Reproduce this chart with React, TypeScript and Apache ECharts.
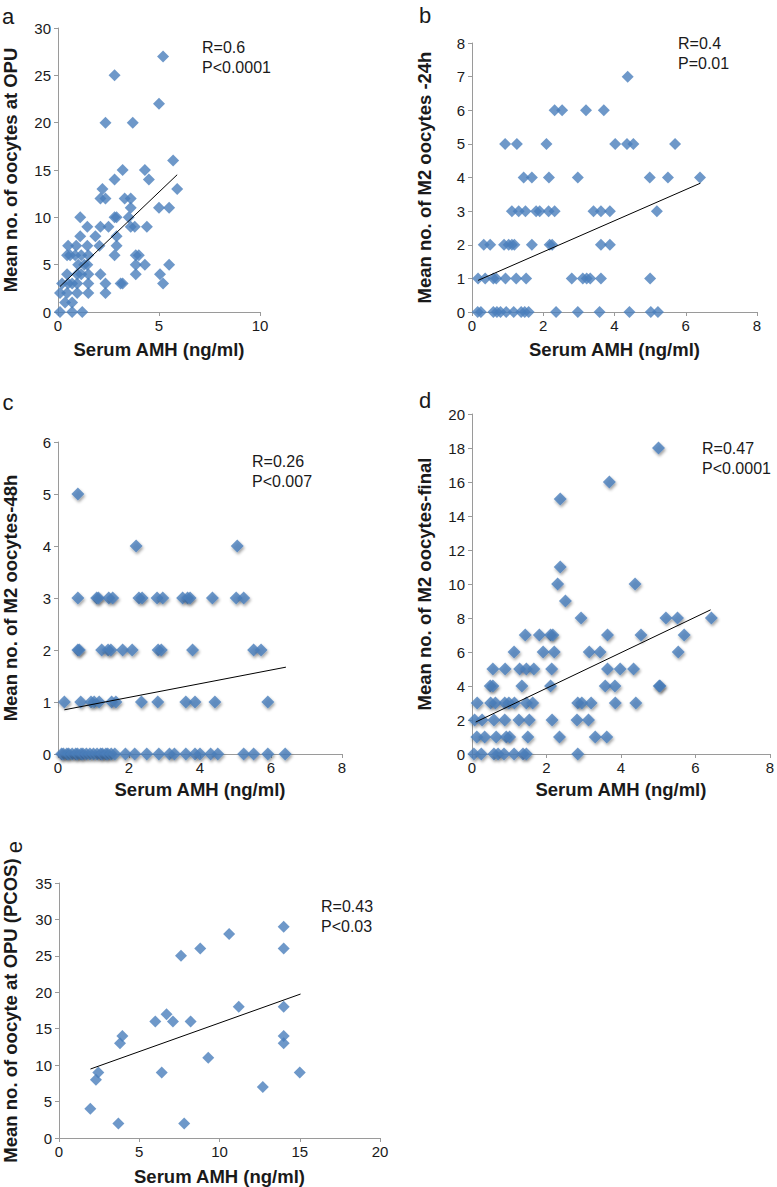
import React, { useEffect, useRef } from "react";
import * as echarts from "echarts";

// ---------- DATA ----------
const xTitle = "Serum AMH (ng/ml)";
const panelLetters = ["a", "b", "c", "d", "e"];
const yTitles = [
  "Mean no. of oocytes at OPU",
  "Mean no. of M2 oocytes -24h",
  "Mean no. of M2 oocytes-48h",
  "Mean no. of M2 oocytes-final",
  "Mean no. of oocyte at OPU (PCOS)",
];
const statLabels = [
  "R=0.6\nP<0.0001",
  "R=0.4\nP=0.01",
  "R=0.26\nP<0.007",
  "R=0.47\nP<0.0001",
  "R=0.43\nP<0.03",
];
const xMax = [10, 8, 8, 8, 20];
const xStep = [5, 2, 2, 2, 5];
const yMax = [30, 8, 6, 20, 35];
const yStep = [5, 1, 1, 2, 5];

const pointsA: number[][] = [
  [5.2, 27], [2.8, 25], [5.0, 22], [2.35, 20], [3.7, 20], [5.7, 16], [3.2, 15], [4.3, 15],
  [2.8, 14], [4.5, 14], [5.9, 13], [2.2, 13], [2.1, 12], [2.35, 12], [3.3, 12], [3.6, 12],
  [5.0, 11], [5.5, 11], [3.6, 11], [1.1, 10], [2.8, 10], [2.9, 10], [3.5, 10], [1.45, 9],
  [2.1, 9], [2.5, 9], [3.6, 9], [3.8, 9], [4.4, 9], [1.1, 8], [1.85, 8], [2.9, 8],
  [0.5, 7], [0.9, 7], [1.45, 7], [2.05, 7], [2.9, 7], [0.45, 6], [0.6, 6], [0.85, 6],
  [1.15, 6], [1.5, 6], [2.8, 6], [3.85, 6], [4.0, 6], [1.0, 5], [1.3, 5], [1.45, 5],
  [3.85, 5], [4.3, 5], [5.5, 5], [0.45, 4], [0.95, 4], [1.15, 4], [1.5, 4], [2.1, 4],
  [3.85, 4], [5.05, 4], [0.2, 3], [0.5, 3], [0.7, 3], [0.95, 3], [1.5, 3], [2.35, 3],
  [3.1, 3], [3.2, 3], [5.2, 3], [0.1, 2], [0.45, 2], [0.95, 2], [1.5, 2], [2.35, 2],
  [0.35, 1], [0.7, 1], [0.1, 0], [0.7, 0], [1.2, 0],
];
const pointsB: number[][] = [
  [4.37, 7], [2.32, 6], [2.53, 6], [3.2, 6], [3.7, 6],
  [0.93, 5], [1.26, 5], [2.09, 5], [4.02, 5], [4.35, 5], [4.53, 5], [5.7, 5],
  [1.45, 4], [1.68, 4], [2.16, 4], [2.97, 4], [4.99, 4], [5.5, 4], [6.4, 4],
  [1.12, 3], [1.31, 3], [1.5, 3], [1.8, 3], [1.9, 3], [2.15, 3], [2.32, 3], [3.41, 3],
  [3.62, 3], [3.87, 3], [5.19, 3],
  [0.33, 2], [0.51, 2], [0.9, 2], [1.03, 2], [1.12, 2], [1.19, 2], [1.68, 2], [2.18, 2],
  [2.25, 2], [3.62, 2], [3.87, 2],
  [0.17, 1], [0.37, 1], [0.6, 1], [0.68, 1], [0.94, 1], [1.24, 1], [1.52, 1], [2.8, 1],
  [3.11, 1], [3.22, 1], [3.32, 1], [3.62, 1], [5.0, 1],
  [0.16, 0], [0.25, 0], [0.6, 0], [0.7, 0], [0.8, 0], [0.96, 0], [1.17, 0], [1.38, 0],
  [1.48, 0], [1.59, 0], [2.36, 0], [2.97, 0], [3.58, 0], [4.42, 0], [5.02, 0], [5.22, 0],
];
const pointsC: number[][] = [
  [0.56, 5], [2.2, 4], [5.05, 4],
  [0.56, 3], [1.09, 3], [1.14, 3], [1.43, 3], [1.54, 3], [2.28, 3], [2.37, 3], [2.79, 3],
  [2.95, 3], [3.51, 3], [3.65, 3], [3.72, 3], [4.35, 3], [5.02, 3], [5.23, 3],
  [0.56, 2], [0.6, 2], [1.23, 2], [1.41, 2], [1.49, 2], [1.82, 2], [2.09, 2], [2.82, 2],
  [2.91, 2], [3.79, 2], [5.51, 2], [5.72, 2],
  [0.18, 1], [0.64, 1], [0.93, 1], [1.02, 1], [1.16, 1], [1.51, 1], [1.63, 1], [2.35, 1],
  [2.81, 1], [3.6, 1], [3.86, 1], [4.42, 1], [5.91, 1],
  [0.1, 0], [0.15, 0], [0.25, 0], [0.3, 0], [0.4, 0], [0.5, 0], [0.55, 0], [0.65, 0],
  [0.7, 0], [0.8, 0], [0.9, 0], [1.0, 0], [1.1, 0], [1.2, 0], [1.25, 0], [1.35, 0],
  [1.4, 0], [1.5, 0], [1.6, 0], [1.9, 0], [2.16, 0], [2.5, 0], [2.84, 0], [3.14, 0],
  [3.28, 0], [3.6, 0], [3.86, 0], [4.0, 0], [4.3, 0], [4.5, 0], [5.23, 0], [5.51, 0],
  [5.91, 0], [6.4, 0],
];
const pointsD: number[][] = [
  [5.01, 18], [3.69, 16], [2.37, 15], [2.37, 11], [2.3, 10], [4.38, 10], [2.51, 9],
  [2.93, 8], [5.21, 8], [5.52, 8], [6.43, 8],
  [1.43, 7], [1.81, 7], [2.11, 7], [2.17, 7], [3.64, 7], [4.54, 7], [5.7, 7],
  [1.13, 6], [1.91, 6], [2.21, 6], [3.15, 6], [3.44, 6], [5.54, 6],
  [0.56, 5], [0.89, 5], [1.28, 5], [1.46, 5], [1.66, 5], [2.14, 5], [3.64, 5], [3.98, 5],
  [4.34, 5],
  [0.49, 4], [0.56, 4], [1.34, 4], [2.11, 4], [3.58, 4], [3.84, 4], [5.03, 4], [5.05, 4],
  [0.14, 3], [0.5, 3], [0.63, 3], [0.88, 3], [0.99, 3], [1.14, 3], [1.46, 3], [1.63, 3],
  [2.84, 3], [2.95, 3], [3.2, 3], [3.85, 3], [4.4, 3],
  [0.07, 2], [0.27, 2], [0.59, 2], [0.88, 2], [1.26, 2], [1.54, 2], [2.15, 2], [2.82, 2],
  [3.13, 2],
  [0.13, 1], [0.34, 1], [0.65, 1], [0.92, 1], [1.01, 1], [1.5, 1], [2.35, 1], [3.31, 1],
  [3.62, 1],
  [0.05, 0], [0.25, 0], [0.59, 0], [0.7, 0], [0.86, 0], [1.13, 0], [1.37, 0], [1.46, 0],
  [2.84, 0],
];
const pointsE: number[][] = [
  [14, 29], [10.6, 28], [8.8, 26], [14, 26], [7.6, 25], [11.2, 18], [14, 18], [6.7, 17],
  [6.0, 16], [7.1, 16], [8.2, 16], [3.95, 14], [3.8, 13], [14, 14], [14, 13], [9.3, 11],
  [6.4, 9], [2.45, 9], [2.3, 8], [15, 9], [12.7, 7], [1.95, 4], [3.7, 2], [7.8, 2],
];
const trendA = [[0.1, 2.7], [5.9, 14.5]];
const trendB = [[0.17, 0.94], [6.41, 3.83]];
const trendC = [[0.18, 0.85], [6.42, 1.67]];
const trendD = [[0.1, 1.88], [6.41, 8.48]];
const trendE = [[1.96, 9.47], [15.05, 19.76]];

const allPoints = [pointsA, pointsB, pointsC, pointsD, pointsE];
const allTrends = [trendA, trendB, trendC, trendD, trendE];

// ---------- LAYOUT / STYLE ----------
const FONT = "'Liberation Sans', Arial, Helvetica, sans-serif";
const BLUE = "#4a7ebb";
const grids = [
  { left: 56, top: 28, width: 204, height: 284 },
  { left: 472, top: 43, width: 285, height: 269 },
  { left: 56, top: 442, width: 286, height: 312 },
  { left: 472, top: 414, width: 299, height: 340 },
  { left: 57, top: 883, width: 323, height: 255 },
];
const xNameGap = [28, 28, 26, 26, 29];
const yNameGap = [38, 38, 38, 38, 39];
const shadowed = [false, false, true, true, false];
const letterPos = [
  [8, 16], [425, 15], [8, 402], [425, 400], [14, 847],
];
const statPos = [
  [202, 37], [678, 33], [252, 451], [702, 438], [321, 896],
];

export default function App() {
  const ref = useRef<HTMLDivElement>(null);
  useEffect(() => {
    document.body.style.margin = "0";
    const chart = echarts.init(ref.current!, null, { renderer: "svg" });
    const axisLineColor = "#9a9a9a";
    const titleStyle = { fontFamily: FONT, fontWeight: "bold", fontSize: 18.5, color: "#1a1a1a" };
    const option: any = {
      animation: false,
      backgroundColor: "#ffffff",
      grid: grids.map((g) => ({ ...g, containLabel: false })),
      xAxis: grids.map((_, i) => ({
        type: "value",
        gridIndex: i,
        min: 0,
        max: xMax[i],
        interval: xStep[i],
        name: xTitle,
        nameLocation: "middle",
        nameGap: xNameGap[i],
        nameTextStyle: titleStyle,
        axisLine: { show: true, lineStyle: { color: axisLineColor, width: 1 } },
        axisTick: { show: true, length: 4, lineStyle: { color: axisLineColor } },
        splitLine: { show: false },
        axisLabel: { fontFamily: FONT, fontSize: 15, color: "#1a1a1a", margin: 6 },
      })),
      yAxis: grids.map((_, i) => ({
        type: "value",
        gridIndex: i,
        min: 0,
        max: yMax[i],
        interval: yStep[i],
        name: yTitles[i],
        nameLocation: "middle",
        nameGap: yNameGap[i],
        nameTextStyle: titleStyle,
        axisLine: { show: true, lineStyle: { color: axisLineColor, width: 1 } },
        axisTick: { show: true, length: 4, lineStyle: { color: axisLineColor } },
        splitLine: { show: false },
        axisLabel: { fontFamily: FONT, fontSize: 15, color: "#1a1a1a", margin: 7 },
      })),
      series: [
        ...allPoints.map((pts, i) => ({
          type: "scatter",
          xAxisIndex: i,
          yAxisIndex: i,
          symbol: "diamond",
          symbolSize: shadowed[i] ? 13 : 12,
          data: pts,
          itemStyle: shadowed[i]
            ? {
                color: BLUE,
                shadowBlur: 3,
                shadowColor: "rgba(0,0,0,0.45)",
                shadowOffsetX: 1,
                shadowOffsetY: 2,
              }
            : { color: BLUE },
          z: 2,
        })),
        ...allTrends.map((t, i) => ({
          type: "line",
          xAxisIndex: i,
          yAxisIndex: i,
          data: t,
          showSymbol: false,
          symbol: "none",
          lineStyle: { color: "#000", width: 1 },
          z: 3,
        })),
      ],
      graphic: [
        ...panelLetters.map((l, i) => ({
          type: "text",
          x: letterPos[i][0],
          y: letterPos[i][1],
          rotation: i === 4 ? Math.PI / 2 : 0,
          style: {
            text: l,
            fontFamily: FONT,
            fontSize: 22,
            lineHeight: 18,
            fill: "#1a1a1a",
            align: "center",
            verticalAlign: "middle",
          },
        })),
        ...statLabels.map((s, i) => ({
          type: "text",
          x: statPos[i][0],
          y: statPos[i][1],
          style: {
            text: s,
            fontFamily: FONT,
            fontSize: 16,
            lineHeight: 20,
            fill: "#1a1a1a",
            align: "left",
            verticalAlign: "top",
          },
        })),
      ],
    };
    chart.setOption(option);
    return () => chart.dispose();
  }, []);
  return (
    <div
      ref={ref}
      style={{ position: "absolute", left: 0, top: 0, width: 777, height: 1187, background: "#fff" }}
    />
  );
}
